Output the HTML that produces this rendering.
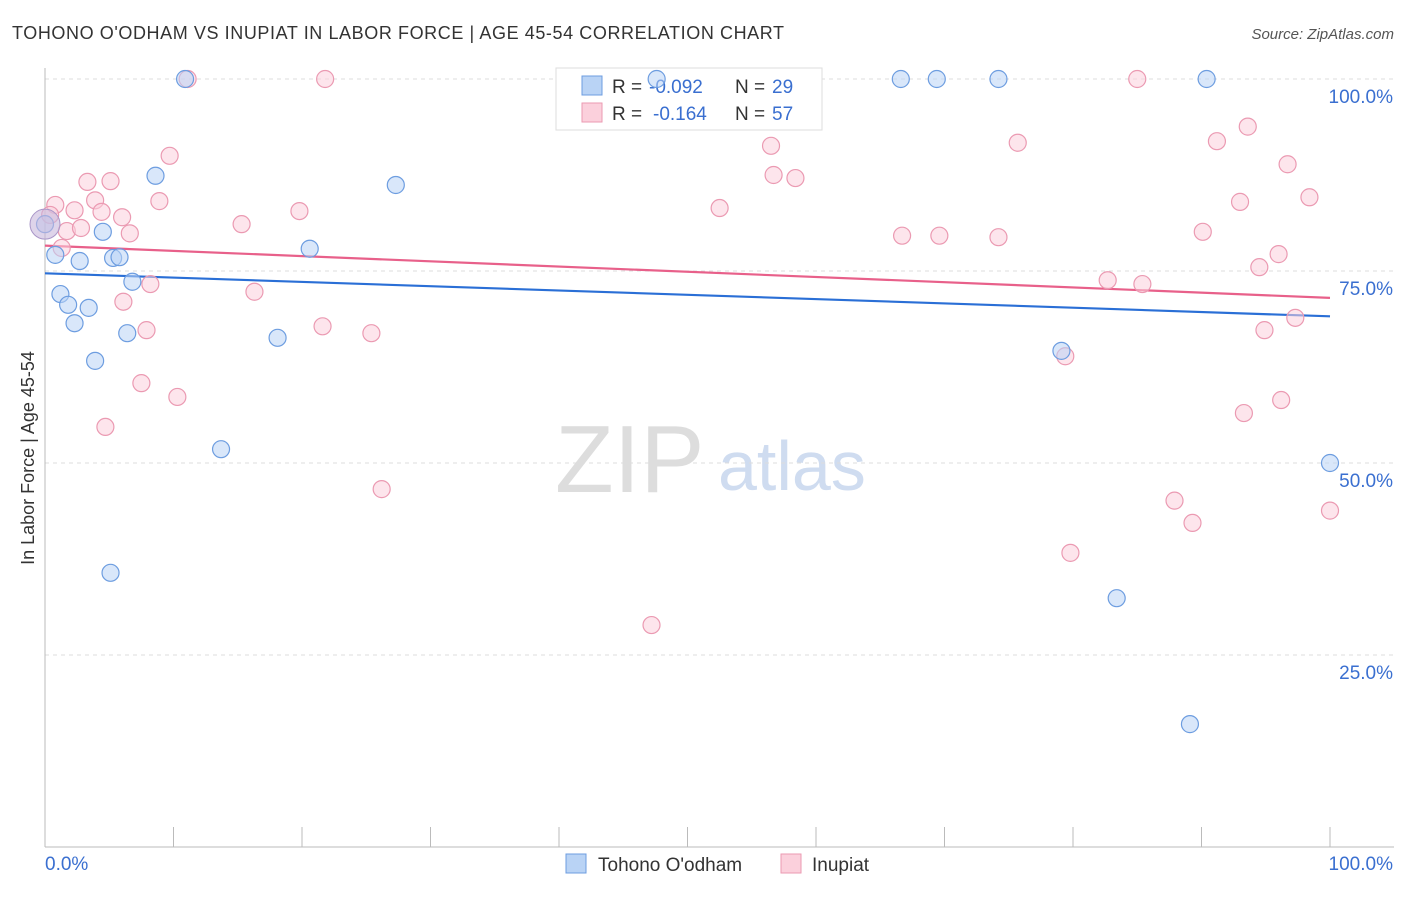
<!DOCTYPE html>
<html><head><meta charset="utf-8"><style>
body{margin:0;background:#fff;font-family:"Liberation Sans",sans-serif;}
svg text{font-family:"Liberation Sans",sans-serif;}
</style></head><body>
<svg id="chart" width="1406" height="892">
<text x="12" y="39" font-size="18" fill="#333" textLength="772">TOHONO O'ODHAM VS INUPIAT IN LABOR FORCE | AGE 45-54 CORRELATION CHART</text>
<text x="1394" y="39" font-size="15" fill="#555" text-anchor="end" font-style="italic">Source: ZipAtlas.com</text>
<text x="34" y="458" font-size="18" fill="#333" text-anchor="middle" transform="rotate(-90 34 458)">In Labor Force | Age 45-54</text>
<text x="555" y="492" font-size="96" fill="#ddd" font-family="Liberation Serif">ZIP</text>
<text x="718" y="490" font-size="70" fill="#cfdcf0">atlas</text>
<g id="grid"></g><g id="axes"></g>
<g>
<rect x="556" y="68" width="266" height="62" fill="#fff" stroke="#ddd"/>
<rect x="582" y="76" width="20" height="19" fill="#b9d3f5" stroke="#6d9de0"/>
<text x="612" y="93" font-size="19" fill="#333">R =</text>
<text x="649" y="93" font-size="19" fill="#3a6fd0">-0.092</text>
<text x="735" y="93" font-size="19" fill="#333">N =</text>
<text x="772" y="93" font-size="19" fill="#3a6fd0">29</text>
<rect x="582" y="103" width="20" height="19" fill="#fbd0dc" stroke="#eb9ab2"/>
<text x="612" y="120" font-size="19" fill="#333">R =</text>
<text x="653" y="120" font-size="19" fill="#3a6fd0">-0.164</text>
<text x="735" y="120" font-size="19" fill="#333">N =</text>
<text x="772" y="120" font-size="19" fill="#3a6fd0">57</text>
</g>
<g id="lines"></g><g id="pts"></g>
<g>
<rect x="566" y="854" width="20" height="19" fill="#b9d3f5" stroke="#6d9de0"/>
<text x="598" y="871" font-size="19" fill="#333">Tohono O'odham</text>
<rect x="781" y="854" width="20" height="19" fill="#fbd0dc" stroke="#eb9ab2"/>
<text x="812" y="871" font-size="19" fill="#333">Inupiat</text>
</g>
</svg>
<script>
const blueX=[10.9,47.6,66.6,69.4,74.2,90.4,8.6,27.3,0,4.5,20.6,0.8,2.7,5.3,5.8,6.8,1.2,1.8,3.4,2.3,6.4,18.1,3.9,79.1,13.7,5.1,83.4,89.1,100];
const blueY=[100,100,100,100,100,100,87.4,86.2,81.1,80.1,77.9,77.1,76.3,76.7,76.8,73.6,72.0,70.6,70.2,68.2,66.9,66.3,63.3,64.6,51.8,35.7,32.4,16.0,50.0];
const pinkX=[11.1,21.8,85.0,93.6,91.2,75.7,9.7,56.5,96.7,56.7,58.4,3.3,5.1,98.4,3.9,8.9,0.8,2.3,4.4,19.8,52.5,93.0,6.0,15.3,1.7,2.8,6.6,1.3,66.7,69.6,74.2,90.1,96.0,94.5,8.2,82.7,85.4,16.3,6.1,21.6,7.9,25.4,94.9,97.3,79.4,7.5,10.3,93.3,96.2,4.7,26.2,87.9,89.3,100,79.8,47.2,0.4];
const pinkY=[100,100,100,93.8,91.9,91.7,90.0,91.3,88.9,87.5,87.1,86.6,86.7,84.6,84.2,84.1,83.6,82.9,82.7,82.8,83.2,84.0,82.0,81.1,80.2,80.6,79.9,78.0,79.6,79.6,79.4,80.1,77.2,75.5,73.3,73.8,73.3,72.3,71.0,67.8,67.3,66.9,67.3,68.9,63.9,60.4,58.6,56.5,58.2,54.7,46.6,45.1,42.2,43.8,38.3,28.9,82.3];
const blueTrend=[74.7,69.1];
const pinkTrend=[78.3,71.5];
const yTicks=[100,75,50,25];
const yTickLabels=["100.0%","75.0%","50.0%","25.0%"];
const xTicks=[0,10,20,30,40,50,60,70,80,90,100];
const NS="http://www.w3.org/2000/svg";
const sx=v=>45+v*12.85, sy=v=>847-v*7.68;
function mk(t,a,p){const e=document.createElementNS(NS,t);for(const k in a)e.setAttribute(k,a[k]);document.getElementById(p).appendChild(e);return e;}
yTicks.forEach((v,i)=>{
 const g=mk('line',{x1:45,x2:1394,y1:sy(v),y2:sy(v),stroke:'#ddd','stroke-dasharray':'4,4'},'grid');
 
 
 const t=mk('text',{x:1393,y:sy(v)+24,'font-size':19,fill:'#3a6fd0','text-anchor':'end'},'grid');
 t.textContent=yTickLabels[i];
 
 
});
const ax=mk('line',{x1:45,x2:45,y1:68,y2:847,stroke:'#bbb'},'axes');


const ax2=mk('line',{x1:45,x2:1394,y1:847,y2:847,stroke:'#bbb'},'axes');


xTicks.forEach(v=>{const l=mk('line',{x1:sx(v),x2:sx(v),y1:827,y2:847,stroke:'#bbb'},'axes');
 
 });
const xl=mk('text',{x:45,y:870,'font-size':19,fill:'#3a6fd0'},'axes');xl.textContent='0.0%';


const xr=mk('text',{x:1393,y:870,'font-size':19,fill:'#3a6fd0','text-anchor':'end'},'axes');xr.textContent='100.0%';


function pts(X,Y,f,s,n){X.forEach((x,i)=>{const c=mk('circle',{cx:sx(x),cy:sy(Y[i]),r:8.5,fill:f,'fill-opacity':0.55,stroke:s,'stroke-width':1.2},'pts');
 
 });}
pts(pinkX,pinkY,'#fbd0dc','#eb9ab2','inupiat-point');
pts(blueX,blueY,'#b9d3f5','#6d9de0','tohono-point');
const big=mk('circle',{cx:sx(0),cy:sy(81.1),r:15,fill:'#c8b8dc','fill-opacity':0.6,stroke:'#a996c8'},'pts');


const bl=mk('line',{x1:sx(0),x2:sx(100),y1:sy(blueTrend[0]),y2:sy(blueTrend[1]),stroke:'#2a6fd6','stroke-width':2.2},'lines');


const pl=mk('line',{x1:sx(0),x2:sx(100),y1:sy(pinkTrend[0]),y2:sy(pinkTrend[1]),stroke:'#e8608a','stroke-width':2.2},'lines');


</script>
</body></html>
